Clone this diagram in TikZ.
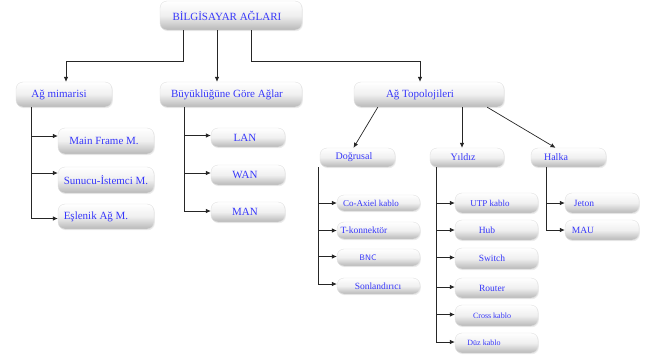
\documentclass[tikz,border=0pt]{standalone}
\usepackage{fontspec}
\setmainfont{Liberation Serif}
\usetikzlibrary{arrows.meta,shadows}
\definecolor{txtblue}{RGB}{55,55,250}
\tikzset{
  box/.style={rounded corners=7pt, top color=white, bottom color=black!28,
    middle color=black!6, draw=black!12, line width=0.4pt, inner sep=0pt,
    drop shadow={opacity=0.15, shadow xshift=0.8pt, shadow yshift=-1.2pt}},
  txt/.style={text=txtblue, inner sep=0pt, anchor=center},
  conn/.style={draw=black!85, line width=0.7pt},
  arr/.style={conn, -{Latex[length=5pt,width=4.5pt]}},
}
\newcommand{\bx}[8]{%
  \node[box, minimum width={(#4-#2)*1pt}, minimum height={(#5-#3)*1pt}] (#1) at ({(#2+#4)/2},{(#3+#5)/2}) {};
  \node[txt, font=#7] (#1t) at (#6,{(#3+#5)/2}) {#8};}
\begin{document}
\begin{tikzpicture}[x=1pt,y=-1pt]
\useasboundingbox (0,0) rectangle (646,354);
% level 0
\bx{top}{160}{1}{302}{30}{227}{\fontsize{11}{12}\selectfont}{BİLGİSAYAR AĞLARI}
% level 1
\bx{mim}{16}{82}{112}{107}{59}{\fontsize{11}{12}\selectfont}{Ağ mimarisi}
\bx{buy}{160}{82}{302}{107}{227}{\fontsize{11}{12}\selectfont}{Büyüklüğüne Göre Ağlar}
\bx{topo}{354}{82}{504}{107}{420}{\fontsize{11}{12}\selectfont}{Ağ Topolojileri}
% mimari children
\bx{mf}{58}{128}{154}{154}{104}{\fontsize{11}{12}\selectfont}{Main Frame M.}
\bx{si}{58}{167}{154}{193}{106}{\fontsize{11}{12}\selectfont}{Sunucu-İstemci M.}
\bx{es}{58}{204}{154}{229}{96}{\fontsize{11}{12}\selectfont}{Eşlenik  Ağ M.}
% size children
\bx{lan}{211}{128}{285}{147}{245}{\fontsize{11}{12}\selectfont}{LAN}
\bx{wan}{211}{165}{285}{185}{245}{\fontsize{11}{12}\selectfont}{WAN}
\bx{man}{211}{202}{285}{222}{245}{\fontsize{11}{12}\selectfont}{MAN}
% topology level 2
\bx{dog}{320}{148}{395}{167}{354}{\fontsize{10}{11}\selectfont}{Doğrusal}
\bx{yil}{430}{148}{504}{167}{463}{\fontsize{10}{11}\selectfont}{Yıldız}
\bx{hal}{531}{148}{606}{167}{556}{\fontsize{10}{11}\selectfont}{Halka}
% dogrusal children
\bx{coax}{337}{195}{420}{211}{371}{\fontsize{9}{10}\selectfont}{Co-Axiel kablo}
\bx{tkon}{337}{222}{420}{239}{364}{\fontsize{9.5}{10}\selectfont}{T-konnektör}
\bx{bnc}{337}{249}{420}{266}{368}{\fontsize{8}{9}\selectfont\sffamily}{BNC}
\bx{son}{337}{278}{420}{294}{378}{\fontsize{9.5}{10}\selectfont}{Sonlandırıcı}
% yildiz children
\bx{utp}{455}{193}{538}{213}{490}{\fontsize{9}{10}\selectfont}{UTP kablo}
\bx{hub}{455}{220}{538}{240}{487}{\fontsize{9.5}{10}\selectfont}{Hub}
\bx{sw}{455}{248}{538}{269}{492}{\fontsize{9.5}{10}\selectfont}{Switch}
\bx{rou}{455}{278}{538}{298}{492}{\fontsize{9.5}{10}\selectfont}{Router}
\bx{cro}{455}{305}{538}{326}{492}{\fontsize{8}{9}\selectfont}{Cross kablo}
\bx{duz}{455}{333}{538}{353}{484}{\fontsize{8}{9}\selectfont}{Düz kablo}
% halka children
\bx{jet}{565}{193}{639}{213}{584}{\fontsize{9.5}{10}\selectfont}{Jeton}
\bx{mau}{565}{220}{639}{240}{583}{\fontsize{9.5}{10}\selectfont}{MAU}
% connectors from top
\draw[arr] ([xshift=-48pt]top.south) |- ++(0,31) -| ([xshift=2pt]mim.north);
\draw[arr] ([xshift=-14pt]top.south) -- ([xshift=-14pt]buy.north);
\draw[arr] ([xshift=20pt]top.south) |- ++(0,31) -| ([xshift=-9pt]topo.north);
% mimari
\draw[arr] ([xshift=16pt]mim.south west) |- ([yshift=5pt]mf.west);
\draw[arr] ([xshift=16pt]mim.south west) |- ([yshift=7pt]si.west);
\draw[arr] ([xshift=16pt]mim.south west) |- ([yshift=-2pt]es.west);
% size
\draw[arr] ([xshift=-47pt]buy.south) |- ([yshift=2pt]lan.west);
\draw[arr] ([xshift=-47pt]buy.south) |- ([yshift=2pt]wan.west);
\draw[arr] ([xshift=-47pt]buy.south) |- ([yshift=1pt]man.west);
% topology
\draw[arr] ([xshift=24pt]topo.south west) -- ([xshift=-4pt]dog.north);
\draw[arr] ([xshift=33pt]topo.south) -- ([xshift=-5pt]yil.north);
\draw[arr] ([xshift=-17pt]topo.south east) -- ([xshift=-13pt]hal.north);
% dogrusal
\draw[arr] ([xshift=-1pt]dog.south west) |- (coax.west);
\draw[arr] ([xshift=-1pt]dog.south west) |- (tkon.west);
\draw[arr] ([xshift=-1pt]dog.south west) |- ([yshift=1pt]bnc.west);
\draw[arr] ([xshift=-1pt]dog.south west) |- ([yshift=2pt]son.west);
% yildiz
\draw[arr] ([xshift=7pt]yil.south west) |- (utp.west);
\draw[arr] ([xshift=7pt]yil.south west) |- (hub.west);
\draw[arr] ([xshift=7pt]yil.south west) |- ([yshift=1pt]sw.west);
\draw[arr] ([xshift=7pt]yil.south west) |- ([yshift=1pt]rou.west);
\draw[arr] ([xshift=7pt]yil.south west) |- ([yshift=1pt]cro.west);
\draw[arr] ([xshift=7pt]yil.south west) |- ([yshift=1pt]duz.west);
% halka
\draw[arr] ([xshift=16pt]hal.south west) |- (jet.west);
\draw[arr] ([xshift=16pt]hal.south west) |- (mau.west);
\end{tikzpicture}
\end{document}
